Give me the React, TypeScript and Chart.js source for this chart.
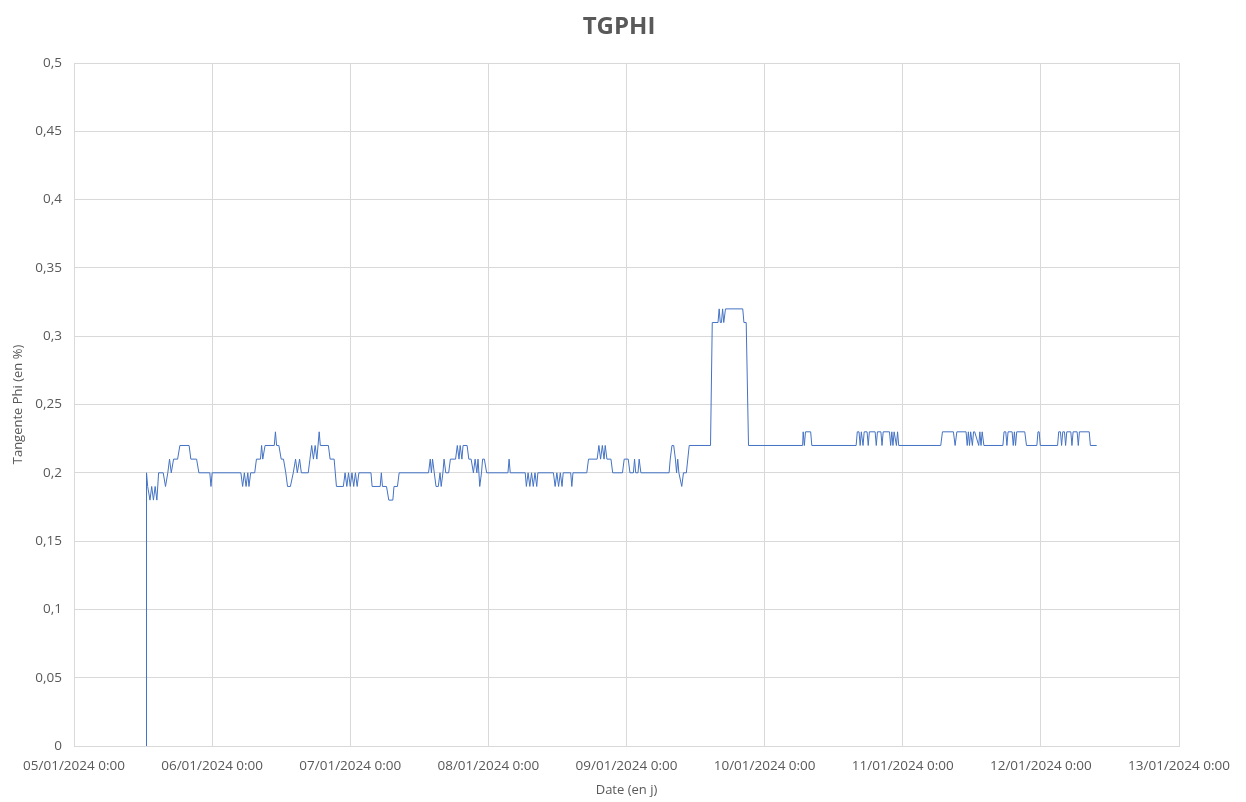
import React, { useEffect, useRef } from "react";
import { Chart, registerables } from "chart.js";

Chart.register(...registerables);

// Hours since 05/01/2024 0:00
const hours: number[] = [
  12.6, 12.6, 12.8, 13.2, 13.5, 13.8, 14.1, 14.4, 14.7, 15.5, 15.9, 16.3, 16.6, 16.9, 17.3, 18.0, 18.4, 20.0, 20.3, 21.3, 21.7, 23.6, 23.8, 24.0,
  29.0, 29.3, 29.6, 29.9, 30.2, 30.4, 30.7, 31.4, 31.7, 32.4, 32.6, 32.8, 33.2, 34.8, 35.0, 35.2, 35.6, 36.0, 36.4, 36.8, 37.1, 37.6, 38.1, 38.5, 38.8, 39.2, 39.5,
  40.7, 41.0, 41.3, 41.6, 41.9, 42.2, 42.6, 42.8, 44.2, 44.5, 45.2, 45.6, 46.8, 47.1, 47.4, 47.7, 48.0, 48.3, 48.6, 48.9, 49.2, 49.5,
  51.6, 51.8, 53.2, 53.4, 53.6, 54.3, 54.7, 55.4, 55.6, 56.2, 56.5,
  61.6, 61.9, 62.1, 62.3, 62.6, 62.9, 63.3, 63.6, 63.8, 64.1, 64.3, 64.6, 65.1, 65.4, 66.3, 66.6, 66.9, 67.1, 67.4, 67.6, 68.3, 68.6, 69.0, 69.4, 69.7, 70.0, 70.2, 70.5, 70.8, 71.0, 71.3, 71.7,
  75.4, 75.6, 75.8,
  78.4, 78.6, 78.9, 79.2, 79.5, 79.8, 80.1, 80.4, 80.6,
  83.3, 83.6, 83.9, 84.2, 84.5, 84.8, 85.0,
  86.3, 86.5, 86.7,
  89.1, 89.4, 90.9, 91.2, 91.5, 91.8, 92.1, 92.3, 92.6, 93.3, 93.6, 95.3, 95.6, 96.3, 96.6, 97.2, 97.4, 97.6, 98.0, 98.2, 98.5,
  103.4, 103.6, 103.9, 104.2, 104.5, 104.7, 104.9, 105.1, 105.6, 105.9, 106.4, 106.9,
  110.6, 110.9, 111.9, 112.1, 112.3, 112.5, 112.7, 112.9, 113.2, 116.2, 116.4, 116.8, 117.2,
  126.6, 126.7, 126.9, 127.1, 128.0, 128.2,
  135.9, 136.1, 136.4, 136.6, 136.8, 137.1, 137.3, 137.8, 138.0, 138.2, 139.2, 139.4, 139.6, 140.2, 140.4, 140.6, 141.7, 141.9, 142.1, 142.3, 142.5, 142.9, 143.1, 143.3,
  150.6, 150.9, 152.8, 153.1, 153.4, 155.0, 155.2, 155.4, 155.6, 155.8, 156.1, 156.3, 156.5, 157.2, 157.4, 157.6, 157.8, 158.1,
  161.4, 161.6, 161.9, 162.1, 162.3, 163.0, 163.2, 163.4, 163.6, 163.8, 165.2, 165.5,
  167.3, 167.5, 167.7, 167.9,
  170.9, 171.1, 171.4, 171.6, 171.8, 172.1, 172.3, 172.5, 173.2, 173.4, 173.6, 174.3, 174.5, 174.7, 176.4, 176.6, 177.7,
];

const tgphi: number[] = [
  0, 0.2, 0.19, 0.18, 0.19, 0.18, 0.19, 0.18, 0.2, 0.2, 0.19, 0.2, 0.21, 0.2, 0.21, 0.21, 0.22, 0.22, 0.21, 0.21, 0.2, 0.2, 0.19, 0.2,
  0.2, 0.19, 0.2, 0.19, 0.2, 0.19, 0.2, 0.2, 0.21, 0.21, 0.22, 0.21, 0.22, 0.22, 0.23, 0.22, 0.22, 0.21, 0.21, 0.2, 0.19, 0.19, 0.2, 0.21, 0.2, 0.21, 0.2,
  0.2, 0.21, 0.22, 0.21, 0.22, 0.21, 0.23, 0.22, 0.22, 0.21, 0.21, 0.19, 0.19, 0.2, 0.19, 0.2, 0.19, 0.2, 0.19, 0.2, 0.19, 0.2,
  0.2, 0.19, 0.19, 0.2, 0.19, 0.19, 0.18, 0.18, 0.19, 0.19, 0.2,
  0.2, 0.21, 0.2, 0.21, 0.2, 0.19, 0.19, 0.2, 0.19, 0.2, 0.21, 0.2, 0.2, 0.21, 0.21, 0.22, 0.21, 0.22, 0.21, 0.22, 0.22, 0.21, 0.21, 0.2, 0.21, 0.2, 0.21, 0.19, 0.2, 0.21, 0.21, 0.2,
  0.2, 0.21, 0.2,
  0.2, 0.19, 0.2, 0.19, 0.2, 0.19, 0.2, 0.19, 0.2,
  0.2, 0.19, 0.2, 0.19, 0.2, 0.19, 0.2,
  0.2, 0.19, 0.2,
  0.2, 0.21, 0.21, 0.22, 0.21, 0.22, 0.21, 0.22, 0.21, 0.21, 0.2, 0.2, 0.21, 0.21, 0.2, 0.2, 0.21, 0.2, 0.2, 0.21, 0.2,
  0.2, 0.21, 0.22, 0.22, 0.21, 0.2, 0.21, 0.2, 0.19, 0.2, 0.2, 0.22,
  0.22, 0.31, 0.31, 0.32, 0.31, 0.31, 0.32, 0.31, 0.32, 0.32, 0.31, 0.31, 0.22,
  0.22, 0.23, 0.22, 0.23, 0.23, 0.22,
  0.22, 0.23, 0.23, 0.22, 0.23, 0.22, 0.23, 0.23, 0.22, 0.23, 0.23, 0.22, 0.23, 0.23, 0.22, 0.23, 0.23, 0.22, 0.23, 0.22, 0.23, 0.22, 0.23, 0.22,
  0.22, 0.23, 0.23, 0.22, 0.23, 0.23, 0.22, 0.23, 0.22, 0.23, 0.22, 0.23, 0.23, 0.22, 0.23, 0.22, 0.23, 0.22,
  0.22, 0.23, 0.23, 0.22, 0.23, 0.23, 0.22, 0.23, 0.22, 0.23, 0.23, 0.22,
  0.22, 0.23, 0.23, 0.22,
  0.22, 0.23, 0.23, 0.22, 0.23, 0.23, 0.22, 0.23, 0.23, 0.22, 0.23, 0.23, 0.22, 0.23, 0.23, 0.22, 0.22,
];

const dateLabels: string[] = [
  "05/01/2024 0:00",
  "06/01/2024 0:00",
  "07/01/2024 0:00",
  "08/01/2024 0:00",
  "09/01/2024 0:00",
  "10/01/2024 0:00",
  "11/01/2024 0:00",
  "12/01/2024 0:00",
  "13/01/2024 0:00",
];

const chartTitle = "TGPHI";
const xTitle = "Date (en j)";
const yTitle = "Tangente Phi (en %)";

const FONT = "'Open Sans', 'Liberation Sans', sans-serif";
const TEXT = "#595959";
const GRID = "#d9d9d9";

export default function App() {
  const ref = useRef<HTMLCanvasElement | null>(null);

  useEffect(() => {
    if (!ref.current) return;
    const n = Math.min(hours.length, tgphi.length);
    const points = [];
    for (let i = 0; i < n; i++) points.push({ x: hours[i], y: tgphi[i] });

    const titlePlugin = {
      id: "excelTitle",
      afterDraw(chart: any) {
        const ctx = chart.ctx;
        ctx.save();
        ctx.font = `bold 24px ${FONT}`;
        ctx.fillStyle = TEXT;
        ctx.textAlign = "center";
        ctx.textBaseline = "alphabetic";
        ctx.fillText(chartTitle, 619, 34);
        ctx.restore();
      },
    };

    const chart = new Chart(ref.current, {
      type: "line",
      data: {
        datasets: [
          {
            label: "TGPHI",
            data: points,
            borderColor: "#4472C4",
            borderWidth: 1,
            pointRadius: 0,
            pointHoverRadius: 0,
            tension: 0,
            fill: false,
          },
        ],
      },
      options: {
        responsive: false,
        animation: false,
        parsing: false as any,
        layout: { padding: { left: 0, right: 67, top: 63, bottom: 0 } },
        plugins: {
          legend: { display: false },
          title: { display: false },
          tooltip: { enabled: false },
        },
        scales: {
          x: {
            type: "linear",
            min: 0,
            max: 192,
            afterFit(scale: any) {
              scale.height = 56;
            },
            grid: { color: GRID, drawTicks: false, lineWidth: 1 },
            border: { color: GRID },
            ticks: {
              stepSize: 24,
              autoSkip: false,
              maxRotation: 0,
              minRotation: 0,
              padding: 12,
              color: TEXT,
              font: { family: FONT, size: 13.5 },
              callback: (v: any) => {
                const i = Math.round(Number(v) / 24);
                return dateLabels[i] ?? "";
              },
            },
            title: {
              display: true,
              text: xTitle,
              color: TEXT,
              font: { family: FONT, size: 13 },
              padding: { top: 0, bottom: 4 },
            },
          },
          y: {
            type: "linear",
            min: 0,
            max: 0.5,
            afterFit(scale: any) {
              scale.width = 74;
            },
            grid: { color: GRID, drawTicks: false, lineWidth: 1 },
            border: { color: GRID },
            ticks: {
              stepSize: 0.05,
              padding: 12,
              color: TEXT,
              font: { family: FONT, size: 13.5 },
              callback: (v: any) =>
                String(Number(Number(v).toFixed(2))).replace(".", ","),
            },
            title: {
              display: true,
              text: yTitle,
              color: TEXT,
              font: { family: FONT, size: 13 },
              padding: { top: 10, bottom: 0 },
            },
          },
        },
      },
      plugins: [titlePlugin],
    });
    return () => chart.destroy();
  }, []);

  return (
    <div style={{ position: "fixed", left: 0, top: 0, width: 1246, height: 802, background: "#fff" }}>
      <canvas ref={ref} width={1246} height={802} />
    </div>
  );
}
